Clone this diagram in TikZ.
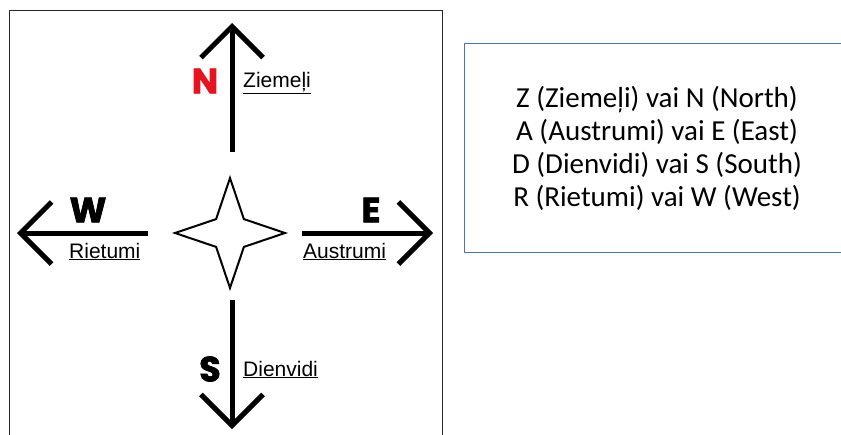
\documentclass[tikz,border=0pt]{standalone}
\usepackage{fontspec}
\setmainfont{Liberation Sans}
\newfontfamily\boxfont{Carlito}
\newfontfamily\dirfont{Poppins}[BoldFeatures={FakeBold=2}]
\usetikzlibrary{arrows.meta, shapes.geometric}
\definecolor{framegrey}{RGB}{40,40,40}
\definecolor{boxblue}{RGB}{79,113,175}
\definecolor{northred}{RGB}{230,20,30}

\begin{document}
\begin{tikzpicture}[x=1pt, y=-1pt,
		dirarrow/.style={line width=5pt, -{Straight Barb[length=31pt, width=62pt, line width=5pt]}},
		letter/.style={font=\dirfont\bfseries\fontsize{35}{35}\selectfont, inner sep=0pt},
		label/.style={font=\fontsize{21}{21}\selectfont, anchor=base west, inner sep=0pt},
		compass/.style={star, star points=4, star point ratio=2.8, minimum size=110pt, inner sep=0pt, draw, line width=2pt, fill=white}]
		\useasboundingbox (0,0) rectangle (841,434);
		\draw[framegrey, line width=1pt] (9,440) -- (9,10) -- (442,10) -- (442,440);
		\draw[boxblue, line width=0.9pt] (845,43) -- (464,43) -- (464,252) -- (845,252);
		\node[compass] (star) at (230,233) {};
		\begin{scope}
			\coordinate (nbase) at (232,152);
			\coordinate (ntip) at (232,23);
			\coordinate (sbase) at (232,300);
			\coordinate (stip) at (232,429);
			\coordinate (wbase) at (148,233);
			\coordinate (wtip) at (17,233);
			\coordinate (ebase) at (302,233);
			\coordinate (etip) at (433,233);
			\draw[dirarrow] (nbase) -- (ntip);
			\draw[dirarrow] (sbase) -- (stip);
			\draw[dirarrow] (wbase) -- (wtip);
			\draw[dirarrow] (ebase) -- (etip);
		\end{scope}
		\node[letter, text=northred] (north) at (205,81) {N};
		\node[letter] (west) at (88,210) {W};
		\node[letter] (east) at (371,210) {E};
		\node[letter] (south) at (210,369) {S};
		\node[label] (ziemeli) at (243,87) {\underline{Ziemeļi}};
		\node[label] (rietumi) at (69,258) {\underline{Rietumi}};
		\node[label] (austrumi) at (303,258) {\underline{Austrumi}};
		\node[label] (dienvidi) at (243,376) {\underline{Dienvidi}};
		\node[font=\boxfont\fontsize{29}{33}\selectfont, align=center] (legend) at (657,148) {Z (Ziemeļi) vai N (North)\\A (Austrumi) vai E (East)\\D (Dienvidi) vai S (South)\\R (Rietumi) vai W (West)};
	\end{tikzpicture}
\end{document}
